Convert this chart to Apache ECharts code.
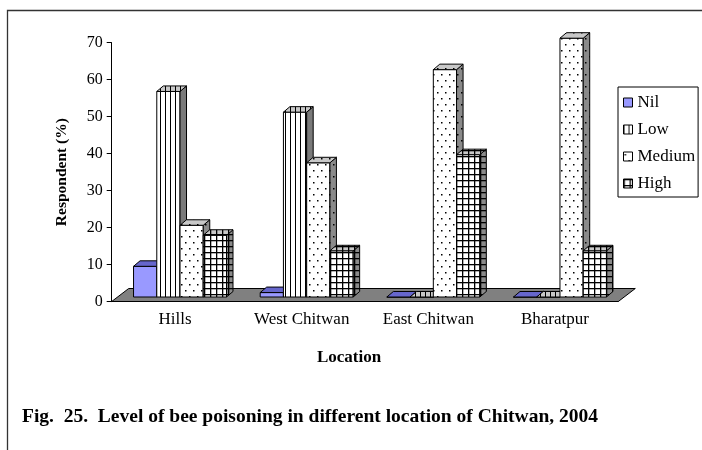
<!DOCTYPE html>
<html>
<head>
<meta charset="utf-8">
<script src="https://cdn.jsdelivr.net/npm/echarts@6/dist/echarts.min.js"></script>
<style>
html,body{margin:0;padding:0;background:#fff}
#main{width:702px;height:450px}
</style>
</head>
<body>
<div id="main"></div>
<script>
// data (percent of respondents)
var categories = ['Hills', 'West Chitwan', 'East Chitwan', 'Bharatpur'];
var levelNames = ['Nil', 'Low', 'Medium', 'High'];
var nilData = [8.3, 1.2, 0, 0];
var lowData = [55.6, 50, 0, 0];
var mediumData = [19.4, 36.3, 61.5, 70];
var highData = [16.7, 12.5, 38.5, 12.5];
var levelData = [nilData, lowData, mediumData, highData];

var serif = "'Liberation Serif', 'Times New Roman', serif";
var dx = 6.5, dy = 5.5;

//fill patterns like the old excel hatches
function makePattern(kind, bg){
    var c = document.createElement('canvas');
    var ctx;
    if(kind=='vline'){
        c.width = 5; c.height = 5;
        ctx = c.getContext('2d');
        ctx.fillStyle = bg; ctx.fillRect(0,0,5,5);
        ctx.fillStyle = '#000'; ctx.fillRect(0,0,1,5);
    }else if(kind=='dots'){
        c.width = 8; c.height = 12;
        ctx = c.getContext('2d');
        ctx.fillStyle = bg; ctx.fillRect(0,0,8,12);
        ctx.fillStyle = '#000';
        ctx.fillRect(1,2,1.5,1.5);
        ctx.fillRect(5,8,1.5,1.5);
    }else{
        c.width = 6; c.height = 6;
        ctx = c.getContext('2d');
        ctx.fillStyle = bg; ctx.fillRect(0,0,6,6);
        ctx.fillStyle = '#000';
        ctx.fillRect(0,0,6,1.3);
        ctx.fillRect(0,0,1.3,6);
    }
    return {image: c, repeat: 'repeat'};
}

var faceStyles = [
    {front:'#9999ff', side:'#4d4d99', top:'#6666cc'},
    {front:makePattern('vline','#fff'), side:'#7a7a7a', top:makePattern('vline','#c8c8c8')},
    {front:makePattern('dots','#fff'), side:makePattern('dots','#8a8a8a'), top:makePattern('dots','#c8c8c8')},
    {front:makePattern('grid','#fff'), side:makePattern('grid','#8a8a8a'), top:makePattern('grid','#c8c8c8')}
];

function barRenderer(level){
    return function(params, api){
        var idx = api.value(0);
        var base = api.coord([idx, 0]);
        var top = api.coord([idx, api.value(1)]);
        var band = api.size([1, 0])[0];
        var w = band * 0.1835;
        var x0 = base[0] - 2*w + 5 + level*w;
        var x1 = x0 + w;
        var yb = base[1] - 4.5;
        var yt = top[1] - 4.5;
        var st = faceStyles[level];
        return {
            type: 'group',
            children: [
                {type:'rect', shape:{x:x0, y:yt, width:w, height:yb-yt},
                 style:{fill:st.front, stroke:'#000', lineWidth:1}},
                {type:'polygon', shape:{points:[[x1,yt],[x1+dx,yt-dy],[x1+dx,yb-dy],[x1,yb]]},
                 style:{fill:st.side, stroke:'#000', lineWidth:1}},
                {type:'polygon', shape:{points:[[x0,yt],[x1,yt],[x1+dx,yt-dy],[x0+dx,yt-dy]]},
                 style:{fill:st.top, stroke:'#000', lineWidth:1}}
            ]
        };
    };
}

function floorRenderer(params, api){
    var cs = params.coordSys;
    var yf = cs.y + cs.height;
    var x0 = cs.x, x1 = cs.x + cs.width;
    return {
        type:'polygon',
        shape:{points:[[x0,yf],[x1,yf],[x1+17,yf-13],[x0+17,yf-13]]},
        style:{fill:'#808080', stroke:'#000', lineWidth:1}
    };
}

var series = [];
series.push({type:'custom', name:'floor', renderItem:floorRenderer, data:[[0,0]], silent:true});
for(var s = 0;s<levelNames.length;s++){
    var d = [];
    for(var i = 0;i<categories.length;i++){
        d.push([i, levelData[s][i]]);
    }
    series.push({
        type:'custom',
        name:levelNames[s],
        renderItem:barRenderer(s),
        itemStyle:{color:faceStyles[s].front},
        encode:{x:0, y:1},
        data:d
    });
}

var legendData = [];
for(var n = 0;n<levelNames.length;n++){
    legendData.push({name:levelNames[n], icon:'rect',
        itemStyle:{color:faceStyles[n].front, borderColor:'#000', borderWidth:1}});
}

var option = {
    animation:false,
    grid:{left:111.7, right:83.7, top:42.7, bottom:148.5},
    legend:{
        orient:'vertical', left:618, top:87,
        padding:[7,3,5,5], itemGap:10, itemWidth:9, itemHeight:9,
        borderColor:'#000', borderWidth:1,
        selectedMode:false,
        textStyle:{fontFamily:serif, fontSize:17, color:'#000', lineHeight:16},
        data:legendData
    },
    xAxis:{
        type:'category',
        data:categories,
        axisLine:{lineStyle:{color:'#000', width:1}},
        axisTick:{length:4, lineStyle:{color:'#000'}},
        axisLabel:{margin:10, fontFamily:serif, fontSize:17, color:'#000'},
        splitLine:{show:false}
    },
    yAxis:{
        type:'value', min:0, max:70, interval:10,
        name:'Respondent (%)', nameLocation:'middle', nameGap:42, nameRotate:90,
        nameTextStyle:{fontFamily:serif, fontSize:15.5, fontWeight:'bold', color:'#000'},
        axisLine:{show:true, lineStyle:{color:'#000', width:1}},
        axisTick:{show:true, length:5, lineStyle:{color:'#000'}},
        axisLabel:{margin:9, fontFamily:serif, fontSize:16, color:'#000'},
        splitLine:{show:false}
    },
    graphic:[
        {type:'rect', shape:{x:7.5, y:10.5, width:800, height:600},
         style:{fill:'none', stroke:'#333', lineWidth:1.3}, silent:true},
        {type:'text', x:349, y:358,
         style:{text:'Location', font:'bold 17px ' + serif, fill:'#000', textAlign:'center', textVerticalAlign:'middle'}},
        {type:'text', x:22, y:417,
         style:{text:'Fig.  25.  Level of bee poisoning in different location of Chitwan, 2004',
                font:'bold 19.5px ' + serif, fill:'#000', textAlign:'left', textVerticalAlign:'middle'}}
    ],
    series:series
};

var chart = echarts.init(document.getElementById('main'));
chart.setOption(option);
</script>
</body>
</html>
